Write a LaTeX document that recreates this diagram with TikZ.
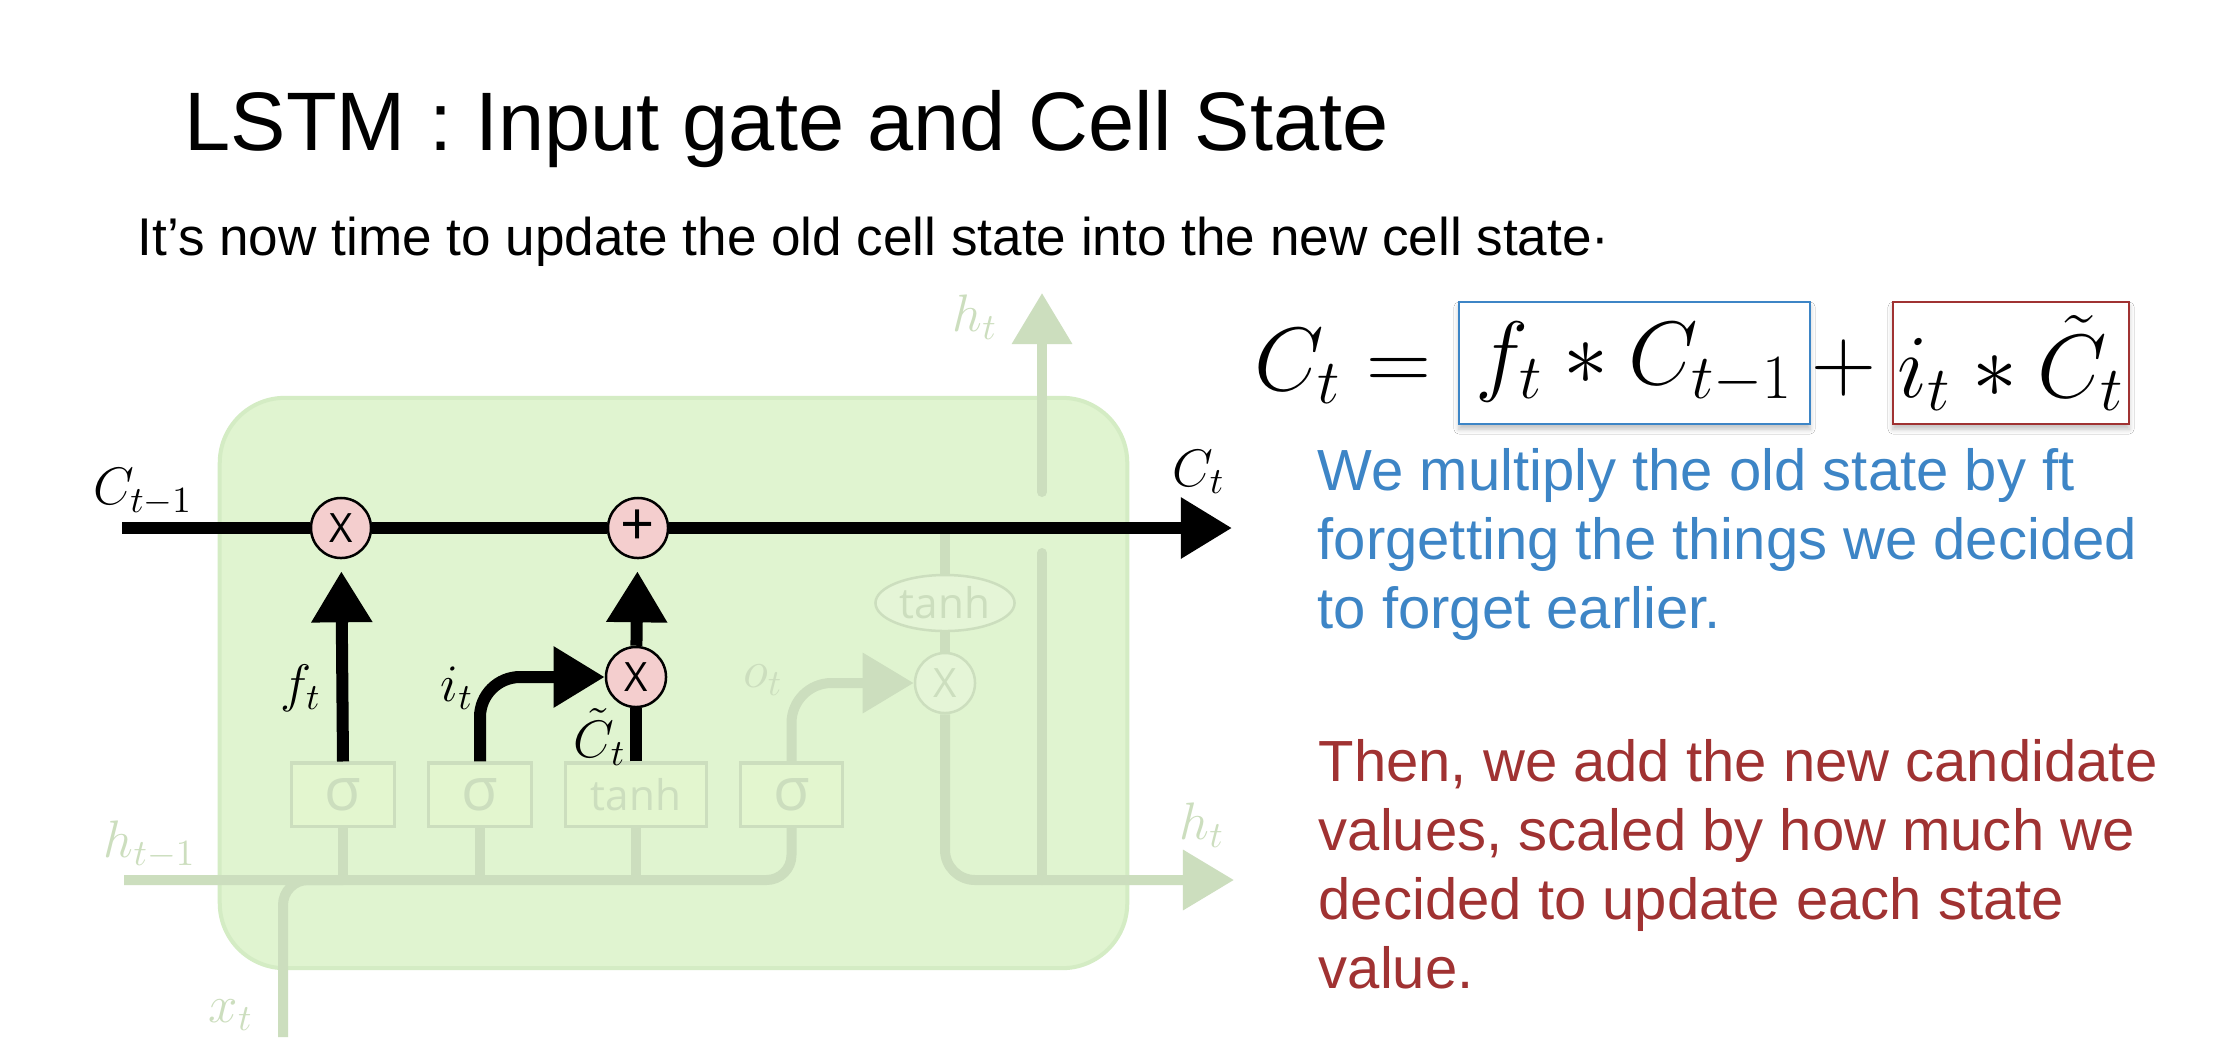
\RequirePackage{fix-cm}
\documentclass[tikz,border=0pt]{standalone}
\usepackage{amsmath}
\usepackage{fontspec}
\setmainfont{Liberation Sans}
\newfontfamily\gatefont{Open Sans}
\usetikzlibrary{arrows.meta, positioning, shapes.geometric, calc, shadows.blur}

\definecolor{cellfill}{RGB}{224,244,208}
\definecolor{celledge}{RGB}{212,236,196}
\definecolor{gatefill}{RGB}{227,246,207}
\definecolor{fadefill}{RGB}{229,245,215}
\definecolor{fade}{RGB}{204,222,190}
\definecolor{opfill}{RGB}{244,206,206}
\definecolor{noteblue}{RGB}{61,133,198}
\definecolor{notered}{RGB}{160,50,50}

\begin{document}
\begin{tikzpicture}[
    x=0.01cm, y=-0.01cm,
    flow/.style={line width=0.12cm},
    faint/.style={draw=fade, line width=0.1cm},
    head/.style={-{Triangle[length=0.51cm, width=0.58cm]}},
    op/.style={circle, draw, line width=0.025cm, fill=opfill, minimum size=0.6cm, inner sep=0pt, font=\gatefont\fontsize{11.5}{13}\selectfont},
    fop/.style={circle, draw=fade, line width=0.025cm, fill=fadefill, text=fade, minimum size=0.6cm, inner sep=0pt, font=\gatefont\fontsize{11.5}{13}\selectfont},
    gate/.style={draw=fade, line width=0.03cm, fill=gatefill, text=fade, minimum height=0.63cm, inner sep=0pt, font=\gatefont\fontsize{17}{20}\selectfont},
    lbl/.style={font=\fontsize{15}{18}\selectfont},
    flbl/.style={lbl, text=fade},
    txt/.style={anchor=base west, inner sep=0pt},
    note/.style={txt, align=left, font=\fontsize{16.5}{19.6}\selectfont},
    term/.style={draw, line width=0.02cm, fill=white, inner sep=0pt, minimum height=1.22cm, font=\fontsize{25.6}{30}\selectfont,
        blur shadow={shadow xshift=0cm, shadow yshift=-0.05cm, shadow blur radius=0.05cm, shadow opacity=25}}
]
\path[use as bounding box, fill=white] (0,0) rectangle (2216,1051);

\node[txt, font=\fontsize{23.6}{28}\selectfont] (title) at (184,150) {LSTM : Input gate and Cell State};
\node[txt, font=\fontsize{15.1}{18}\selectfont] (lead) at (137,255) {It’s now time to update the old cell state into the new cell state·};

\node[draw=celledge, fill=cellfill, line width=0.04cm, rounded corners=0.65cm, minimum width=9.07cm, minimum height=5.7cm] (cell) at (673.5,683) {};

\node[gate, minimum width=1.02cm] (sig1) at (343,794.5) {σ};
\node[gate, minimum width=1.02cm] (sig2) at (480,794.5) {σ};
\node[gate, minimum width=1.4cm, font=\gatefont\fontsize{12}{14}\selectfont] (tanh1) at (636,794.5) {tanh};
\node[gate, minimum width=1.01cm] (sig3) at (791.5,794.5) {σ};

\node[op] (fmul) at (341,528) {X};
\node[op, font=\gatefont\fontsize{17}{20}\selectfont] (add) at (638,528) {+};
\node[op] (imul) at (636,677) {X};
\node[fop] (omul) at (945,683) {X};
\node[ellipse, draw=fade, line width=0.025cm, fill=fadefill, text=fade, minimum width=1.39cm, minimum height=0.56cm, inner sep=0pt, font=\gatefont\fontsize{12}{14}\selectfont] (ctanh) at (945,603) {tanh};

\coordinate (cin) at (122,528);
\coordinate (cout) at (1232,528);
\coordinate (ctap) at (945,528);
\coordinate (hin) at (124,880);
\coordinate (hout) at (1234,880);
\coordinate (xin) at (283,1037);
\coordinate (hsplit) at (1042,880);
\coordinate (gaplo) at (1042,553);
\coordinate (gaphi) at (1042,492);
\coordinate (htop) at (1042,293);

\draw[faint, rounded corners=0.25cm] (hin) -| (sig3.south);
\draw[faint, rounded corners=0.25cm] (xin) |- (sig1.south |- hin);
\foreach \g in {sig1,sig2,tanh1}
    \draw[faint] (\g.south) -- (\g.south |- hin);
\draw[faint, head, rounded corners=0.4cm] (sig3.north) |- (omul);
\draw[faint] (ctap) -- (ctanh) -- (omul);
\draw[faint, head, rounded corners=0.3cm] (omul) |- (hout);
\draw[faint, line cap=round] (hsplit) -- (gaplo);
\draw[faint, head, line cap=round] (gaphi) -- (htop);

\node[flbl] (htup) at (975,317) {$h_t$};
\node[flbl] (htright) at (1202,825) {$h_t$};
\node[flbl] (xtag) at (231,1015) {$x_t$};
\node[flbl] (hprev) at (150,845) {$h_{t-1}$};
\node[flbl] (otag) at (763,680) {$o_t$};

\draw[flow, head] (cin) -- (fmul) -- (add) -- (cout);
\draw[flow, head, shorten >=0.12cm] (sig1.north) -- (fmul);
\draw[flow, head, rounded corners=0.4cm] (sig2.north) |- (imul);
\draw[flow] (tanh1.north) -- (imul);
\draw[flow, head, shorten >=0.12cm] (imul) -- (add);

\node[lbl] (cprev) at (143,492) {$C_{t-1}$};
\node[lbl] (cnext) at (1199,472) {$C_t$};
\node[lbl] (ftag) at (301,688) {$f_t$};
\node[lbl] (itag) at (457,688) {$i_t$};
\node[lbl] (cttag) at (600,737) {$\tilde{C}_t$};

\node[txt, font=\fontsize{25.6}{30}\selectfont] (lhs) at (1254,390) {$C_t =$};
\node[term, draw=noteblue, minimum width=3.51cm] (forget) at (1634.5,363) {$f_t * C_{t-1}$\hspace{0.2cm}};
\node[anchor=base, inner sep=0pt, font=\fontsize{25.6}{30}\selectfont] (plus) at (1844,390) {$+$};
\node[term, draw=notered, minimum width=2.36cm] (update) at (2011,363) {$i_t * \tilde{C}_t$};

\node[note, text=noteblue] (forgetnote) at (1317,628) {We multiply the old state by ft\\forgetting the things we decided\\to forget earlier.};
\node[note, text=notered] (addnote) at (1318,988) {Then, we add the new candidate\\values, scaled by how much we\\decided to update each state\\value.};
\end{tikzpicture}
\end{document}
